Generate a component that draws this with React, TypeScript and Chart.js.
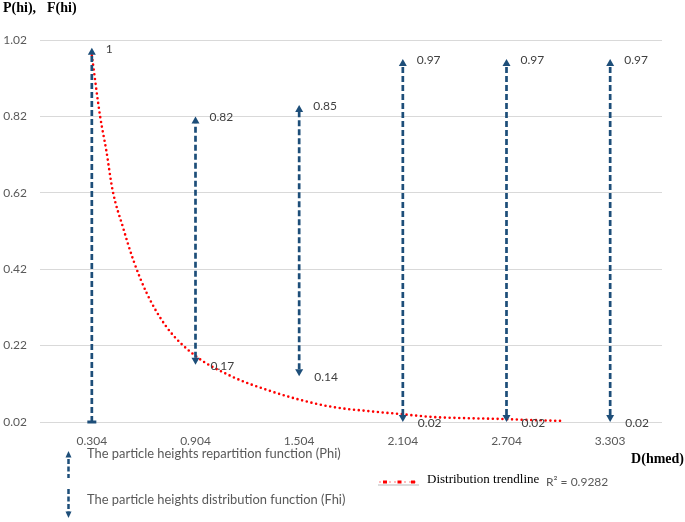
import React, { useEffect, useRef } from "react";
import { Chart, registerables } from "chart.js";

Chart.register(...registerables);

const xLabels = ["0.304", "0.904", "1.504", "2.104", "2.704", "3.303"];
const phiValues = [1, 0.82, 0.85, 0.97, 0.97, 0.97];
const fhiValues: (number | null)[] = [null, 0.17, 0.14, 0.02, 0.02, 0.02];
const yTicks = [0.02, 0.22, 0.42, 0.62, 0.82, 1.02];
const trendX = [1.0, 1.08, 1.14, 1.2, 1.3, 1.4, 1.53, 1.72, 1.99, 2.36, 2.69, 3.01, 3.33, 3.65, 3.97, 4.29, 4.62, 4.94, 5.26, 5.52];
const trendY = [0.98, 0.82, 0.73, 0.627, 0.53, 0.444, 0.357, 0.269, 0.195, 0.138, 0.104, 0.078, 0.059, 0.049, 0.041, 0.033, 0.03, 0.028, 0.025, 0.023];
const phiLegend = "The particle heights repartition function (Phi)";
const fhiLegend = "The particle heights distribution function (Fhi)";
const trendLegend = "Distribution trendline";
const r2Text = "R\u00B2 = 0.9282";
const yTitleA = "P(hi),";
const yTitleB = "F(hi)";
const xTitle = "D(hmed)";

const BLUE = "#1d4e79";
const GRAY = "#595959";
const SANS = "Lato";

function upHead(ctx: CanvasRenderingContext2D, x: number, y: number, w: number, h: number) {
  ctx.beginPath();
  ctx.moveTo(x, y);
  ctx.lineTo(x + w / 2, y + h);
  ctx.lineTo(x - w / 2, y + h);
  ctx.closePath();
  ctx.fill();
}
function downHead(ctx: CanvasRenderingContext2D, x: number, y: number, w: number, h: number) {
  ctx.beginPath();
  ctx.moveTo(x, y);
  ctx.lineTo(x + w / 2, y - h);
  ctx.lineTo(x - w / 2, y - h);
  ctx.closePath();
  ctx.fill();
}
function dashed(ctx: CanvasRenderingContext2D, x: number, y1: number, y2: number, w: number, dash: number[]) {
  ctx.save();
  ctx.strokeStyle = BLUE;
  ctx.lineWidth = w;
  ctx.setLineDash(dash);
  ctx.beginPath();
  ctx.moveTo(x, y1);
  ctx.lineTo(x, y2);
  ctx.stroke();
  ctx.restore();
}

const arrowPlugin = {
  id: "arrows",
  afterDatasetsDraw(chart: any) {
    const ctx: CanvasRenderingContext2D = chart.ctx;
    const xs = chart.scales.x;
    const ys = chart.scales.y;
    ctx.save();
    const headW = 8;
    const headH = 7;
    phiValues.forEach((p, i) => {
      const x = xs.getPixelForValue(i + 1);
      const yTop = ys.getPixelForValue(p);
      const f = fhiValues[i];
      const yBot = f != null ? ys.getPixelForValue(f) : ys.getPixelForValue(ys.min);
      dashed(ctx, x, f != null ? yBot - headH : yBot, yTop + headH, 2.7, [6, 3]);
      ctx.fillStyle = BLUE;
      upHead(ctx, x, yTop, headW, headH);
      if (f != null) downHead(ctx, x, yBot, headW, headH);
      else ctx.fillRect(x - 4.5, yBot - 1.5, 9, 3);
      ctx.fillStyle = "#404040";
      ctx.font = `12px ${SANS}`;
      ctx.textAlign = "left";
      ctx.textBaseline = "middle";
      ctx.fillText(String(p), x + 14, yTop + 1);
      if (f != null) ctx.fillText(String(f), x + 15, yBot + 1);
    });
    ctx.restore();
  },
  afterDraw(chart: any) {
    const ctx: CanvasRenderingContext2D = chart.ctx;
    ctx.save();
    ctx.textBaseline = "middle";
    ctx.textAlign = "left";
    ctx.fillStyle = "#000";
    ctx.font = 'bold 14px "Liberation Serif"';
    ctx.fillText(yTitleA, 3, 8);
    ctx.fillText(yTitleB, 47, 8);
    ctx.textAlign = "right";
    ctx.fillText(xTitle, 684, 459);

    // legend item 1
    ctx.fillStyle = BLUE;
    upHead(ctx, 68.5, 451, 6, 6.5);
    dashed(ctx, 68.5, 459, 478, 2.5, [5, 2.5]);
    // legend item 2
    dashed(ctx, 68.5, 489, 512, 2.5, [5, 2.5]);
    ctx.fillStyle = BLUE;
    downHead(ctx, 68.5, 518, 6, 6.5);

    ctx.textAlign = "left";
    ctx.fillStyle = GRAY;
    ctx.font = `12.9px ${SANS}`;
    ctx.fillText(phiLegend, 87, 454);
    ctx.fillText(fhiLegend, 87, 500);

    // trend legend icon
    ctx.strokeStyle = "#dcdcdc";
    ctx.lineWidth = 2;
    ctx.beginPath();
    ctx.moveTo(378, 485);
    ctx.lineTo(419, 485);
    ctx.stroke();
    ctx.strokeStyle = "rgba(255,0,0,0.35)";
    ctx.lineWidth = 1.5;
    ctx.setLineDash([2, 3]);
    ctx.beginPath();
    ctx.moveTo(379, 482);
    ctx.lineTo(419, 482);
    ctx.stroke();
    ctx.setLineDash([]);
    ctx.fillStyle = "#ff0000";
    [385, 399.5, 413].forEach((x) => ctx.fillRect(x - 2, 480.5, 4, 3));

    ctx.fillStyle = "#000";
    ctx.font = '13px "Liberation Serif"';
    ctx.fillText(trendLegend, 427, 480);
    ctx.fillStyle = GRAY;
    ctx.font = `12px ${SANS}`;
    ctx.fillText(r2Text, 546, 482);
    ctx.restore();
  },
};

export default function App() {
  const ref = useRef<HTMLCanvasElement>(null);
  useEffect(() => {
    if (!ref.current) return;
    const chart = new Chart(ref.current, {
      type: "line",
      data: {
        datasets: [
          {
            label: "trend",
            data: trendX.map((x, i) => ({ x, y: trendY[i] })),
            borderColor: "#ff0000",
            borderWidth: 2.6,
            borderDash: [0, 4.8],
            borderCapStyle: "round",
            pointRadius: 0,
            cubicInterpolationMode: "monotone",
            fill: false,
          },
          {
            label: "Phi",
            data: phiValues.map((y, i) => ({ x: i + 1, y })),
            showLine: false,
            pointRadius: 0,
          },
          {
            label: "Fhi",
            data: fhiValues.map((y, i) => ({ x: i + 1, y })),
            showLine: false,
            pointRadius: 0,
          },
        ] as any,
      },
      options: {
        animation: false,
        responsive: false,
        layout: { padding: { top: 40, right: 23, bottom: 0, left: 0 } },
        plugins: { legend: { display: false }, tooltip: { enabled: false }, title: { display: false } },
        scales: {
          x: {
            type: "linear",
            min: 0.5,
            max: 6.5,
            grid: { display: false },
            border: { display: false },
            afterBuildTicks: (s: any) => {
              s.ticks = xLabels.map((_, i) => ({ value: i + 1 }));
            },
            afterFit: (s: any) => {
              s.height = 100;
            },
            ticks: {
              autoSkip: false,
              maxRotation: 0,
              padding: 4,
              color: GRAY,
              font: { family: SANS, size: 12 },
              callback: (v: any) => xLabels[Math.round(Number(v)) - 1] ?? "",
            },
          },
          y: {
            type: "linear",
            min: 0.02,
            max: 1.02,
            grid: { color: "#d9d9d9", lineWidth: 1, drawTicks: false },
            border: { display: false },
            afterBuildTicks: (s: any) => {
              s.ticks = yTicks.map((v) => ({ value: v }));
            },
            afterFit: (s: any) => {
              s.width = 40;
            },
            ticks: {
              padding: 13,
              color: GRAY,
              font: { family: SANS, size: 12 },
              callback: (v: any) => Number(v).toFixed(2),
            },
          },
        },
      },
      plugins: [arrowPlugin],
    });
    return () => chart.destroy();
  }, []);
  return (
    <div style={{ position: "absolute", left: 0, top: 0, width: 685, height: 522, background: "#fff" }}>
      <canvas ref={ref} width={685} height={522} style={{ display: "block" }} />
    </div>
  );
}
